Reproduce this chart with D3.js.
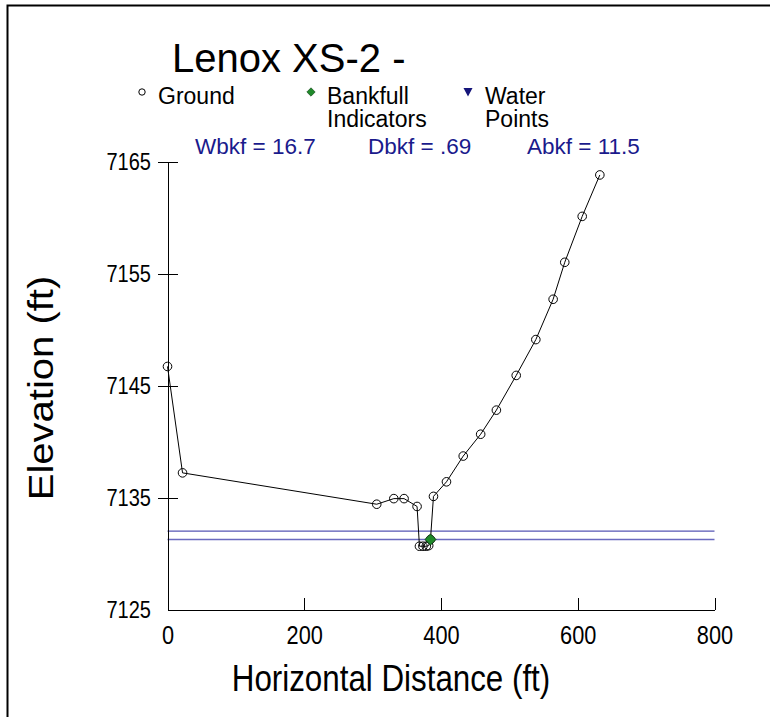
<!DOCTYPE html>
<html>
<head>
<meta charset="utf-8">
<script src="https://cdn.jsdelivr.net/npm/d3@7"></script>
<style>
  body { margin: 0; background: #fff; }
  svg { display: block; font-family: "Liberation Sans", Arial, sans-serif; }
  .axis path, .axis line { stroke: #000; stroke-width: 1; shape-rendering: crispEdges; }
  .axis text { fill: #000; }
</style>
</head>
<body>
<div class="root"></div>
<script>
// station (ft) and elevation (ft) of surveyed ground points
const groundX = [0, 22, 306, 331, 346, 365, 368.5, 373.5, 378.5, 382, 384.6, 389, 408, 432.5, 458, 481, 510, 538.7, 564, 581, 606.5, 632.3];
const groundY = [7146.7, 7137.2, 7134.4, 7134.9, 7134.9, 7134.2, 7130.65, 7130.65, 7130.65, 7130.7, 7131.25, 7135.1, 7136.4, 7138.7, 7140.65, 7142.8, 7145.9, 7149.1, 7152.7, 7156.0, 7160.1, 7163.8];
const bankfullX = [384.6];
const bankfullY = [7131.25];
const waterLevels = [7132.0, 7131.25];
const xTicks = [0, 200, 400, 600, 800];
const yTicks = [7125, 7135, 7145, 7155, 7165];
const stats = ["Wbkf = 16.7", "Dbkf = .69", "Abkf = 11.5"];

const w = 770;
const h = 717;
const svg = d3.select(".root")
              .append("svg")
              .attr("width", w)
              .attr("height", h);

// frame (top and left only)
svg.append("path")
   .attr("d", "M7.5,717 V5.5 H770")
   .attr("fill", "none")
   .attr("stroke", "#000")
   .attr("stroke-width", 2);

const xScale = d3.scaleLinear().domain([0, 800]).range([167.5, 714.5]);
const yScale = d3.scaleLinear().domain([7125, 7165]).range([609.5, 161.5]);

// water surface lines
const waterColors = ["#2a2aa0", "#6a6abf"];
const waterWidths = [1, 1.6];
svg.selectAll(".water")
   .data(waterLevels)
   .enter()
   .append("line")
   .attr("class", "water")
   .attr("x1", xScale(0))
   .attr("x2", xScale(800))
   .attr("y1", d => yScale(d))
   .attr("y2", d => yScale(d))
   .attr("stroke", (d, i) => waterColors[i])
   .attr("stroke-width", (d, i) => waterWidths[i]);

// x axis, ticks pointing up
const xAxis = d3.axisBottom(xScale).tickValues(xTicks).tickSizeInner(-12).tickSizeOuter(0).tickPadding(17);
const gx = svg.append("g")
   .attr("class", "axis")
   .attr("transform", "translate(0," + yScale(7125) + ")")
   .call(xAxis);
gx.selectAll(".tick").filter(d => d === 0).select("line").remove();
gx.selectAll(".tick text")
  .style("font-size", "25px")
  .attr("transform", "scale(0.87,1)");

// y axis, ticks crossing the line
const yAxis = d3.axisLeft(yScale).tickValues(yTicks).tickFormat(d3.format("d"))
                .tickSizeInner(10).tickSizeOuter(0).tickPadding(9);
const gy = svg.append("g")
   .attr("class", "axis")
   .attr("transform", "translate(" + xScale(0) + ",0)")
   .call(yAxis);
gy.selectAll(".tick line").attr("x1", 10);
gy.selectAll(".tick").filter(d => d === 7125).select("line").remove();
gy.selectAll(".tick text")
  .style("font-size", "23px")
  .attr("transform", "scale(0.87,1)")
  .attr("dy", "0.36em");

// ground profile
const pts = groundX.map((x, i) => [x, groundY[i]]);
svg.append("path")
   .datum(pts)
   .attr("fill", "none")
   .attr("stroke", "#000")
   .attr("stroke-width", 1)
   .attr("d", d3.line().x(d => xScale(d[0])).y(d => yScale(d[1])));

svg.selectAll(".ground")
   .data(pts)
   .enter()
   .append("circle")
   .attr("class", "ground")
   .attr("cx", d => xScale(d[0]))
   .attr("cy", d => yScale(d[1]))
   .attr("r", 4.3)
   .attr("fill", "none")
   .attr("stroke", "#000")
   .attr("stroke-width", 1);

// bankfull indicators
const diamond = d3.symbol().type(d3.symbolDiamond2).size(80);
svg.selectAll(".bkf")
   .data(bankfullX)
   .enter()
   .append("path")
   .attr("class", "bkf")
   .attr("transform", (d, i) => "translate(" + xScale(d) + "," + yScale(bankfullY[i]) + ")")
   .attr("d", diamond)
   .attr("fill", "#1f8a2a")
   .attr("stroke", "#0b3d10")
   .attr("stroke-width", 0.8);

// title
svg.append("text")
   .attr("x", 172)
   .attr("y", 72)
   .style("font-size", "40px")
   .text("Lenox XS-2 -");

// legend (two-line entries as one text with tspans)
const legend = svg.append("g").style("font-size", "23px");
legend.append("circle").attr("cx", 142).attr("cy", 92).attr("r", 3.2).attr("fill", "none").attr("stroke", "#000");
legend.append("text").attr("x", 158).attr("y", 104).text("Ground");
legend.append("path").attr("transform", "translate(311,92)")
      .attr("d", d3.symbol().type(d3.symbolDiamond2).size(45))
      .attr("fill", "#1f8a2a").attr("stroke", "#0b3d10").attr("stroke-width", 0.6);
const bkfText = legend.append("text").attr("x", 327).attr("y", 104);
bkfText.append("tspan").attr("x", 327).text("Bankfull");
bkfText.append("tspan").attr("x", 327).attr("dy", 23).text("Indicators");
legend.append("path").attr("d", "M463.5,88 L472.5,88 L468,96.5 Z").attr("fill", "#15157a");
const wpText = legend.append("text").attr("x", 485).attr("y", 104);
wpText.append("tspan").attr("x", 485).text("Water");
wpText.append("tspan").attr("x", 485).attr("dy", 23).text("Points");

// bankfull statistics
const statX = [195, 368, 527];
svg.selectAll(".stat")
   .data(stats)
   .enter()
   .append("text")
   .attr("class", "stat")
   .attr("x", (d, i) => statX[i])
   .attr("y", 154)
   .style("font-size", "22.5px")
   .attr("fill", "#1a1a8c")
   .text(d => d);

// axis titles
svg.append("text")
   .attr("text-anchor", "middle")
   .attr("transform", "translate(391,691)scale(0.87,1)")
   .style("font-size", "36px")
   .text("Horizontal Distance (ft)");

svg.append("text")
   .attr("text-anchor", "middle")
   .attr("transform", "translate(53,388)rotate(-90)scale(1,0.87)")
   .style("font-size", "40px")
   .text("Elevation (ft)");
</script>
</body>
</html>
